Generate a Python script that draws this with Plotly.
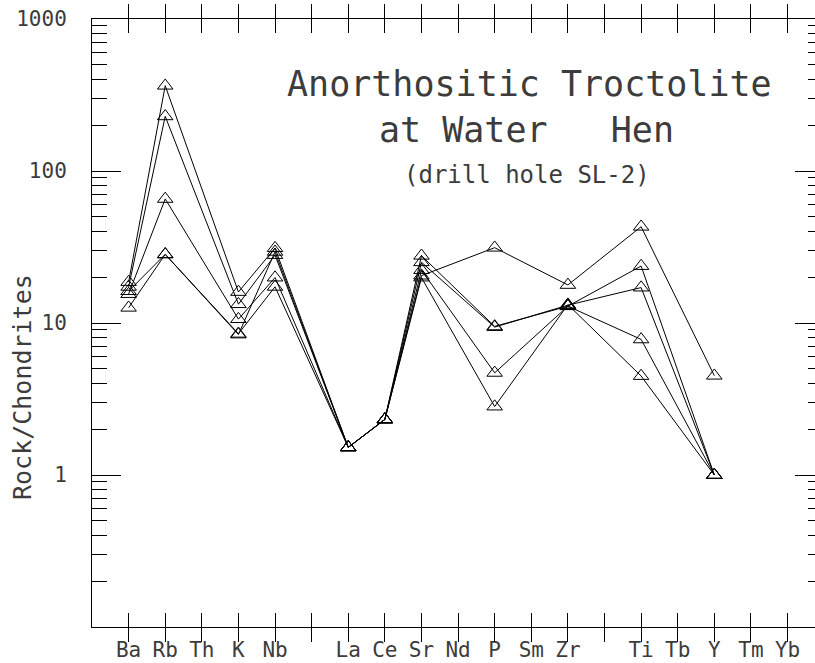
import plotly.graph_objects as go

# ---- data (Rock / Chondrite normalised values) ----
categories = ["Ba", "Rb", "Th", "K", "Nb", "", "La", "Ce", "Sr", "Nd",
              "P", "Sm", "Zr", "", "Ti", "Tb", "Y", "Tm", "Yb"]
positions = list(range(1, len(categories) + 1))

#            Ba    Rb   Th   K     Nb    -    La    Ce    Sr    Nd   P     Sm   Zr    -    Ti    Tb   Y    Tm   Yb
sample_a = [16.2, 28.3, None, 8.4, 29.4, None, 1.52, 2.32, 20.5, None, 31.3, None, 17.8, None, 43.0, None, 4.5, None, None]
sample_b = [18.6, 364., None, 16.0, 31.1, None, 1.52, 2.32, 27.7, None, 9.5, None, 12.9, None, 23.7, None, 1.0, None, None]
sample_c = [17.3, 229., None, 13.3, 28.0, None, 1.52, 2.32, 25.1, None, 9.4, None, 13.1, None, 17.1, None, 1.0, None, None]
sample_d = [15.5, 65.5, None, 10.6, 19.9, None, 1.52, 2.32, 22.3, None, 4.7, None, 12.9, None, 7.8, None, 1.0, None, None]
sample_e = [12.6, 28.3, None, 8.5, 17.3, None, 1.52, 2.32, 19.9, None, 2.82, None, 13.2, None, 4.48, None, 1.0, None, None]
samples = [sample_a, sample_b, sample_c, sample_d, sample_e]

major_ticks = [1, 10, 100, 1000]
major_labels = ["1", "10", "100", "1000"]
minor_ticks = [m * 10 ** e for e in (-1, 0, 1, 2) for m in range(2, 10)]

title_lines = ["Anorthositic Troctolite", "at Water\u00a0\u00a0\u00a0Hen", "(drill hole SL-2)"]
y_title = "Rock/Chondrites"

FONT = "DejaVu Sans Mono"
TXT = "#3c3c3c"

fig = go.Figure()
for s in samples:
    fig.add_trace(go.Scatter(
        x=positions, y=s, mode="lines+markers", connectgaps=True,
        line=dict(color="black", width=1),
        marker=dict(symbol="triangle-up-open", size=13.5, color="black",
                    line=dict(color="black", width=1)),
        showlegend=False, hoverinfo="skip"))

# helper trace so the right-hand tick axis is drawn
fig.add_trace(go.Scatter(x=[], y=[], yaxis="y2", showlegend=False, hoverinfo="skip"))

fig.update_layout(
    width=815, height=663,
    margin=dict(l=92, r=0, t=19, b=36),
    plot_bgcolor="white", paper_bgcolor="white",
    showlegend=False,
    xaxis=dict(
        range=[0, 19.75], tickmode="array", tickvals=positions, ticktext=categories,
        ticks="inside", ticklen=14, tickwidth=1, tickcolor="black",
        showline=True, linecolor="black", linewidth=1, mirror="allticks",
        showgrid=False, zeroline=False, tickangle=0,
        tickfont=dict(family=FONT, size=21, color=TXT),
        ticklabelstandoff=4,
    ),
    yaxis=dict(
        type="log", range=[-1, 3], tickmode="array",
        tickvals=major_ticks, ticktext=major_labels,
        ticks="inside", ticklen=29, tickwidth=1, tickcolor="black",
        minor=dict(ticks="inside", ticklen=15, tickwidth=1, tickcolor="black",
                   tickmode="array", tickvals=minor_ticks, showgrid=False),
        showline=True, linecolor="black", linewidth=1, mirror=False,
        showgrid=False, zeroline=False,
        tickfont=dict(family=FONT, size=21, color=TXT),
        ticklabelstandoff=20,
    ),
    yaxis2=dict(
        type="log", range=[-1, 3], overlaying="y", side="right", anchor="x",
        tickmode="array", tickvals=major_ticks,
        ticks="inside", ticklen=20, tickwidth=1, tickcolor="black",
        minor=dict(ticks="inside", ticklen=7, tickwidth=1, tickcolor="black",
                   tickmode="array", tickvals=minor_ticks, showgrid=False),
        showticklabels=False, showline=False, showgrid=False, zeroline=False,
    ),
)

ann_font_big = dict(family=FONT, size=35, color=TXT)
ann_font_small = dict(family=FONT, size=24, color=TXT)
fig.add_annotation(text=title_lines[0], xref="paper", yref="paper",
                   x=(529 - 92) / 723, y=(627 - 84) / 608, showarrow=False,
                   xanchor="center", yanchor="middle", font=ann_font_big)
fig.add_annotation(text=title_lines[1], xref="paper", yref="paper",
                   x=(526 - 92) / 723, y=(627 - 130) / 608, showarrow=False,
                   xanchor="center", yanchor="middle", font=ann_font_big)
fig.add_annotation(text=title_lines[2], xref="paper", yref="paper",
                   x=(527 - 92) / 723, y=(627 - 175) / 608, showarrow=False,
                   xanchor="center", yanchor="middle", font=ann_font_small)
fig.add_annotation(text=y_title, xref="paper", yref="paper",
                   x=(22 - 92) / 723, y=(627 - 387) / 608, showarrow=False,
                   textangle=-90, xanchor="center", yanchor="middle",
                   font=dict(family=FONT, size=25, color=TXT))

fig.write_html("out.html", config={"displayModeBar": False})
